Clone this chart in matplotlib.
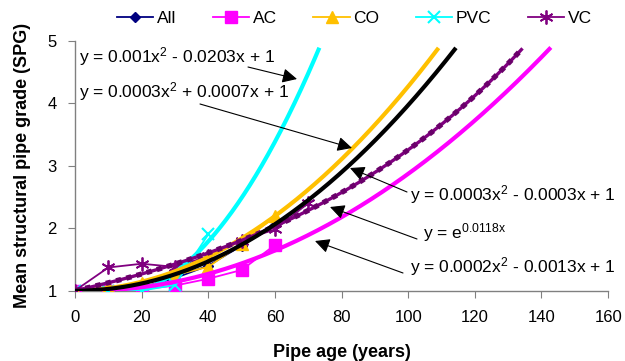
import numpy as np
import matplotlib
matplotlib.use("Agg")
import matplotlib.pyplot as plt

plt.rcParams['font.family'] = ['Liberation Sans', 'DejaVu Sans']
plt.rcParams['mathtext.fontset'] = 'custom'
plt.rcParams['mathtext.rm'] = 'Liberation Sans'
plt.rcParams['mathtext.it'] = 'Liberation Sans'

# ---- data ----
ages = [0, 10, 20, 30, 40, 50, 60, 70]
series_names = ["All", "AC", "CO", "PVC", "VC"]
all_vals = [1.0, 1.0, 1.05, 1.2, 1.4, 1.72, 2.05]
ac_vals = [1.0, 1.0, 1.02, 1.08, 1.19, 1.33, 1.73]
co_vals = [1.0, 1.05, 1.12, 1.25, 1.38, 1.75, 2.2]
pvc_vals = [1.0, 1.0, 1.0, 1.09, 1.9]
vc_vals = [1.0, 1.37, 1.43, 1.38, 1.55, 1.8, 1.98, 2.4]

# trendline coefficients (displayed values are rounded)
all_poly = [0.0003, -0.0003, 1]
ac_poly = [0.0002, -0.0013, 1]
co_poly = [0.00032, 0.0007, 1]
pvc_poly = [0.001, -0.0203, 1]
vc_exp = 0.0118

eq_labels = [
    r"y = 0.001x$^{\mathrm{2}}$ - 0.0203x + 1",
    r"y = 0.0003x$^{\mathrm{2}}$ + 0.0007x + 1",
    r"y = 0.0003x$^{\mathrm{2}}$ - 0.0003x + 1",
    r"y = e$^{\mathrm{0.0118x}}$",
    r"y = 0.0002x$^{\mathrm{2}}$ - 0.0013x + 1",
]

xticks = [0, 20, 40, 60, 80, 100, 120, 140, 160]
yticks = [1, 2, 3, 4, 5]

col_all = "#000080"
col_ac = "#FF00FF"
col_co = "#FFC000"
col_pvc = "#00FFFF"
col_vc = "#800080"

fig = plt.figure(figsize=(6.25, 3.61), dpi=100)
ax = fig.add_axes([0.12, 0.195, 0.853, 0.692])

xs = np.linspace(0, 160, 800)
cut = 4.87
def trim(y):
    y = np.asarray(y, dtype=float)
    return np.where(y <= cut, y, np.nan)

# data series
ax.plot(ages[:len(all_vals)], all_vals, color=col_all, marker="D", ms=5, lw=1.3, label="All", zorder=3)
ax.plot(ages[:len(ac_vals)], ac_vals, color=col_ac, marker="s", ms=8, lw=1.3, label="AC", zorder=3)
ax.plot(ages[:len(co_vals)], co_vals, color=col_co, marker="^", ms=8, lw=1.3, label="CO", zorder=3)
ax.plot(ages[:len(pvc_vals)], pvc_vals, color=col_pvc, marker="x", ms=8, mew=1.5, lw=1.3, label="PVC", zorder=3)
ax.plot(ages[:len(vc_vals)], vc_vals, color=col_vc, marker=(6, 2, 0), ms=10, mew=1.3, lw=1.3, label="VC", zorder=3)

# trendlines
ax.plot(xs, trim(np.polyval(pvc_poly, xs)), color=col_pvc, lw=3, zorder=4)
ax.plot(xs, trim(np.polyval(co_poly, xs)), color=col_co, lw=3, zorder=4)
ax.plot(xs, trim(np.polyval(all_poly, xs)), color="black", lw=3, zorder=5)
vc_trend = trim(np.exp(vc_exp * xs))
ax.plot(xs, vc_trend, color=col_vc, lw=2.4, zorder=4)
ax.plot(xs, vc_trend, color="#6a006a", lw=3.8, ls=(0, (1.0, 1.0)), zorder=4)
ax.plot(xs, trim(np.polyval(ac_poly, xs)), color=col_ac, lw=3, zorder=4)

ax.set_xlim(0, 160)
ax.set_ylim(1, 5)
ax.set_xticks(xticks)
ax.set_yticks(yticks)
ax.tick_params(axis="x", labelsize=12, direction="out", length=5, color="#808080", pad=9)
ax.tick_params(axis="y", labelsize=12, direction="out", length=5, color="#808080", pad=8)
for s in ["top", "right"]:
    ax.spines[s].set_visible(False)
for s in ["left", "bottom"]:
    ax.spines[s].set_color("#808080")
    ax.spines[s].set_linewidth(1)

ax.set_xlabel("Pipe age (years)", fontsize=13, fontweight="bold", labelpad=14)
ax.set_ylabel("Mean structural pipe grade (SPG)", fontsize=13, fontweight="bold", labelpad=12)

# equations with arrows (figure pixels -> fraction)
W, H = 625, 361
def fp(px, py):
    return (px / W, 1 - py / H)

arrow = dict(arrowstyle="-|>", mutation_scale=22, lw=0.8, color="black", shrinkA=0, shrinkB=0)
ann = [
    (eq_labels[0], (79, 57), (248, 67), (297, 79)),
    (eq_labels[1], (79, 92), (200, 104), (352, 148)),
    (eq_labels[2], (410, 195), (407, 192), (350, 168)),
    (eq_labels[3], (423, 233), (417, 239), (330, 207)),
    (eq_labels[4], (410, 267), (403, 273), (315, 241)),
]
for txt, tpos, tail, head in ann:
    fig.text(*fp(*tpos), txt, fontsize=12.5, ha="left", va="center", zorder=6)
    ax.annotate("", xy=fp(*head), xycoords="figure fraction",
                xytext=fp(*tail), textcoords="figure fraction",
                arrowprops=arrow, zorder=6)

leg = fig.legend(loc="center", bbox_to_anchor=(0.567, 0.95), ncol=5, frameon=False,
                 fontsize=12.5, handlelength=2.1, columnspacing=2.1, handletextpad=0.2,
                 borderpad=0)

fig.savefig("out.png", dpi=100)
